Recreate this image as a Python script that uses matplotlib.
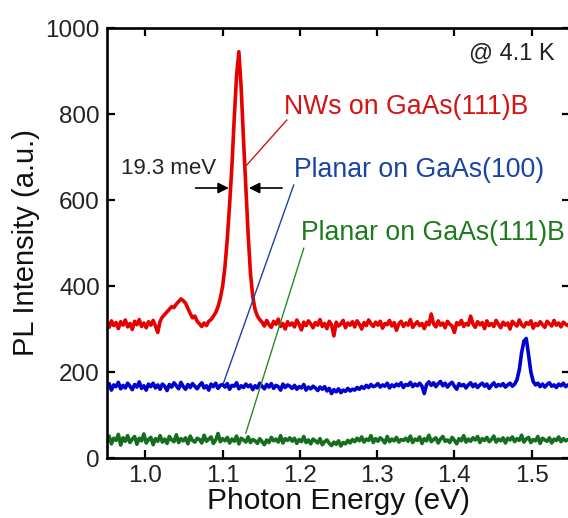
import numpy as np
import matplotlib
matplotlib.use("Agg")
import matplotlib.pyplot as plt

plt.rcParams['font.family'] = ['Liberation Sans', 'DejaVu Sans']

# Photon energy grid (eV), 3 meV steps
energy = np.linspace(0.95, 1.55, 201)

nw_111b = [
    312, 304, 319, 308, 315, 301, 317, 309, 321, 305,
    313, 299, 318, 310, 322, 306, 314, 303, 317, 309,
    320, 307, 292,
    318, 328, 334, 340, 346, 352, 350, 358, 364, 370,
    366, 360, 348, 336, 326, 330, 318, 312, 306, 314,
    308, 318, 322, 330, 338, 352, 372, 400, 445, 510,
    590, 680, 790, 890, 945, 860, 740, 630, 520, 430,
    375, 345, 330, 322,
    316, 307, 320, 310, 304, 318, 311, 323, 306, 313,
    300, 317, 309, 314, 305, 321, 311, 298, 316, 308,
    319, 312, 303, 315, 309, 322, 306, 313, 301, 318,
    310, 284, 316, 307, 312, 320, 303, 314, 309, 317,
    305, 319, 311, 300, 315, 308, 321, 312, 306, 316,
    309, 318, 302, 313, 310, 320, 307, 315, 297, 312,
    318, 306, 314, 309, 322, 304, 311, 317, 308, 313,
    301, 316, 310, 335, 312, 305, 319, 309, 314, 303,
    318, 311, 307, 292, 315, 310, 320, 306, 313, 309,
    330, 312, 304, 317, 310, 315, 301, 319, 308, 313,
    306, 320, 311, 303, 316, 309, 314, 300, 318, 312,
    307, 321, 310, 305, 315, 311, 319, 302, 313, 308,
    317, 310, 304, 318, 312, 307, 320, 309, 314, 305,
    316, 311, 308, 314,
]

planar_100 = [
    164, 173, 158, 170, 166, 176, 161, 169, 163, 174,
    167, 159, 171, 165, 177, 162, 168, 158, 172, 166,
    174, 163, 170, 160, 172, 167, 157, 171, 165, 175,
    168, 161, 176, 166, 160, 171, 164, 173, 167, 161,
    169, 175, 163, 168, 158, 172, 166, 174, 162, 169,
    171, 165, 173, 160, 169, 167, 175, 161, 168, 164,
    172, 166, 170, 159, 168, 163, 174, 167, 161, 171,
    165, 173, 162, 169, 166, 158, 172, 164, 170, 167,
    162, 169, 160, 166, 163, 171, 158, 165, 161, 167,
    163, 157, 165, 160, 166, 156, 162,
    150, 159, 154, 161, 152, 158, 155, 162, 156, 160,
    158, 164, 160,
    166, 162, 169, 164, 171, 166, 168, 173, 165, 170,
    167, 174, 163, 170, 166, 172, 168, 175, 164, 171,
    169, 176, 166, 172, 168, 174, 167, 150, 171, 177,
    169, 175, 166, 173, 178, 168, 174, 165, 172, 176,
    167, 160, 173, 168, 171, 163, 170, 175, 166, 172,
    164, 170, 174, 167, 172, 162, 169, 175, 166, 171,
    168, 173, 165, 170, 174, 167, 172,
    182, 205, 245, 272, 278, 240, 200, 178,
    170, 174, 166, 172, 165, 171, 175, 167, 170, 164,
    172, 168, 174, 166, 170, 168,
]

planar_111b = [
    38, 51, 33, 46, 41, 55, 30, 47, 39, 52,
    36, 44, 50, 32, 46, 40, 56, 35, 43, 48,
    31, 45, 39, 52, 37, 44, 34, 50, 42, 38,
    54, 36, 45, 40, 47, 33, 51, 41, 37, 46,
    43, 35, 53, 39, 44, 49, 34, 42, 57, 38,
    45, 40, 48, 35, 44, 39, 51, 33, 46, 42,
    37, 49, 36, 43, 40, 34, 45, 38, 31, 42,
    36, 48, 40, 44, 37, 52, 35, 45, 41, 47,
    39, 46, 34, 43, 38, 50, 36, 42, 33, 44,
    40, 35, 45, 31, 38, 42, 34, 29, 37, 32,
    40, 28, 36, 33, 41, 35, 43, 38, 46, 40,
    49, 37, 44, 41, 52, 36, 45, 39, 47, 42,
    35, 50, 38, 44, 40, 48, 37, 43, 41, 46,
    39, 51, 36, 44, 41, 49, 34, 45, 40, 53,
    38, 43, 47, 35, 44, 50, 39, 42, 36, 48,
    41, 33, 45, 40, 52, 37, 44, 39, 47, 42,
    50, 36, 45, 41, 48, 38, 43, 51, 37, 44,
    40, 47, 35, 46, 42, 49, 38, 45, 41, 53,
    37, 44, 48, 36, 43, 40, 50, 34, 46, 42,
    39, 47, 35, 44, 41, 49, 38, 45, 40, 43,
    42,
]

x_ticks = [1.0, 1.1, 1.2, 1.3, 1.4, 1.5]
y_ticks = [0, 200, 400, 600, 800, 1000]

fig = plt.figure(figsize=(5.68, 5.18), dpi=100)
ax = fig.add_axes([0.188, 0.1158, 0.816, 0.830])

ax.plot(energy, nw_111b, color='#e60000', lw=2.6)
ax.plot(energy, planar_100, color='#0000d0', lw=2.6)
ax.plot(energy, planar_111b, color='#146e1e', lw=2.6)

ax.set_xlim(0.95, 1.55)
ax.set_ylim(0, 1000)
ax.set_xticks(x_ticks)
ax.set_xticklabels(['%.1f' % v for v in x_ticks])
ax.set_yticks(y_ticks)
ax.tick_params(direction='in', length=6, width=1.6, top=True, right=True,
               labelsize=17.5, pad=5, colors='black')
ax.tick_params(axis='x', labelcolor='#222222')
ax.tick_params(axis='y', labelcolor='#222222')
for s in ax.spines.values():
    s.set_linewidth(1.9)

ax.set_xlabel('Photon Energy (eV)', fontsize=21.5, labelpad=0, color='#111111')
ax.set_ylabel('PL Intensity (a.u.)', fontsize=21, labelpad=4, color='#111111')

# annotations
ax.text(1.179, 816, 'NWs on GaAs(111)B', color='#d41414', fontsize=19.2,
        va='center', ha='left')
ax.plot([1.131, 1.183], [681, 786], color='#d41414', lw=1.0)

ax.text(1.192, 670, 'Planar on GaAs(100)', color='#1a44a0', fontsize=19.2,
        va='center', ha='left')
ax.plot([1.101, 1.192], [174, 635], color='#1a44a0', lw=1.0)

ax.text(1.201, 523, 'Planar on GaAs(111)B', color='#1e7a1e', fontsize=19.2,
        va='center', ha='left')
ax.plot([1.130, 1.205], [58, 488], color='#2a8a2a', lw=1.0)

ax.text(1.030, 674, '19.3 meV', color='#222222', fontsize=16,
        va='center', ha='center')
ax.annotate('', xy=(1.108, 628), xytext=(1.065, 628),
            arrowprops=dict(arrowstyle='-|>', color='black', lw=1.2,
                            mutation_scale=16, shrinkA=0, shrinkB=0))
ax.annotate('', xy=(1.134, 628), xytext=(1.177, 628),
            arrowprops=dict(arrowstyle='-|>', color='black', lw=1.2,
                            mutation_scale=16, shrinkA=0, shrinkB=0))

ax.text(1.530, 940, '@ 4.1 K', color='#222222', fontsize=17,
        va='center', ha='right')

fig.savefig('out.png', dpi=100)
